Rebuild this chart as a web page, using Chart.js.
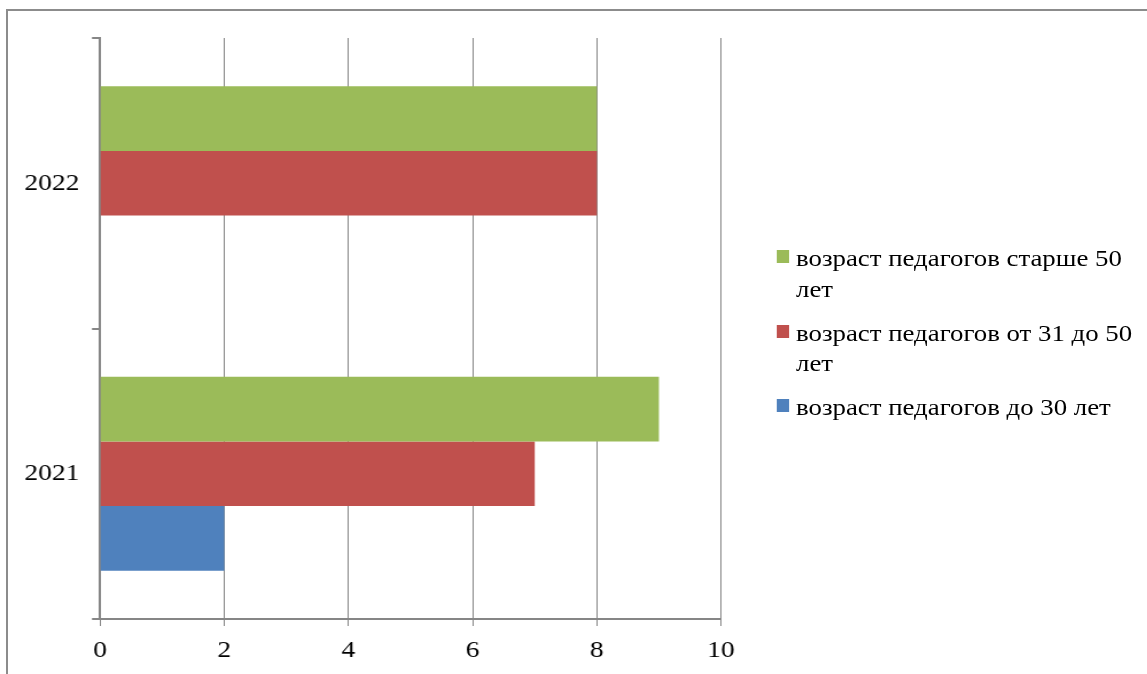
<!DOCTYPE html>
<html>
<head>
<meta charset="utf-8">
<script src="https://cdn.jsdelivr.net/npm/chart.js@4"></script>
<style>
  html, body { margin:0; padding:0; background:#fff; }
  body { width:1147px; height:674px; overflow:hidden; position:relative; }
  #frame { position:absolute; left:6px; top:9px; width:1141px; height:665px;
           border-top:2px solid #8c8c8c; border-left:2px solid #8c8c8c; box-sizing:border-box; }
  #wrap { position:absolute; left:0; top:0; width:1000px; height:674px;
          transform:scaleX(1.147); transform-origin:0 0; }
  #c { position:absolute; left:0; top:0; }
  #legend { position:absolute; left:676.6px; top:243px;
            font-family:'Liberation Serif','Times New Roman',serif; font-size:23.4px; color:#000; }
  .item { display:flex; align-items:flex-start; margin-bottom:13.5px; }
  .sq { width:11.3px; height:13px; margin-top:7px; margin-right:6.1px; flex:none; }
  .txt { width:305px; line-height:30.5px; }
</style>
</head>
<body>
<div id="frame"></div>
<div id="wrap">
  <canvas id="c" width="1000" height="674"></canvas>
  <div id="legend"></div>
</div>
<script>
const years = ['2022', '2021'];
const seriesLabels = [
  'возраст педагогов старше 50 лет',
  'возраст педагогов от 31 до 50 лет',
  'возраст педагогов до 30 лет'
];
const over50 = [8, 9];
const from31to50 = [8, 7];
const under30 = [0, 2];
const seriesColors = ['#9BBB59', '#C0504D', '#4F81BD'];

const FONT = "'Liberation Serif','Times New Roman',serif";
const GRID = '#868686';

const chart = new Chart(document.getElementById('c'), {
  type: 'bar',
  data: {
    labels: years,
    datasets: [
      { label: seriesLabels[0], data: over50, backgroundColor: seriesColors[0] },
      { label: seriesLabels[1], data: from31to50, backgroundColor: seriesColors[1] },
      { label: seriesLabels[2], data: under30, backgroundColor: seriesColors[2] }
    ].map(d => Object.assign(d, { borderWidth: 0, categoryPercentage: 0.667, barPercentage: 1 }))
  },
  options: {
    indexAxis: 'y',
    responsive: false,
    animation: false,
    devicePixelRatio: 1,
    layout: { padding: { left: 0, right: 371.4, top: 38, bottom: 0 } },
    plugins: { legend: { display: false }, tooltip: { enabled: false } },
    scales: {
      x: {
        min: 0, max: 10,
        ticks: { stepSize: 2, color: '#000', font: { family: FONT, size: 24 }, padding: 10 },
        grid: { color: GRID, lineWidth: 1, tickLength: 7, drawTicks: true },
        border: { color: GRID, width: 2 },
        afterFit: s => { s.height = 55; }
      },
      y: {
        ticks: { color: '#000', font: { family: FONT, size: 24 }, padding: 11 },
        grid: { color: GRID, lineWidth: 2, tickLength: 7, drawOnChartArea: false, drawTicks: true },
        border: { color: GRID, width: 2 },
        afterFit: s => { s.width = 87.2; }
      }
    }
  }
});

const legend = document.getElementById('legend');
chart.data.datasets.forEach(ds => {
  const item = document.createElement('div');
  item.className = 'item';
  const sq = document.createElement('span');
  sq.className = 'sq';
  sq.style.background = ds.backgroundColor;
  const t = document.createElement('div');
  t.className = 'txt';
  t.textContent = ds.label;
  item.appendChild(sq);
  item.appendChild(t);
  legend.appendChild(item);
});
</script>
</body>
</html>
